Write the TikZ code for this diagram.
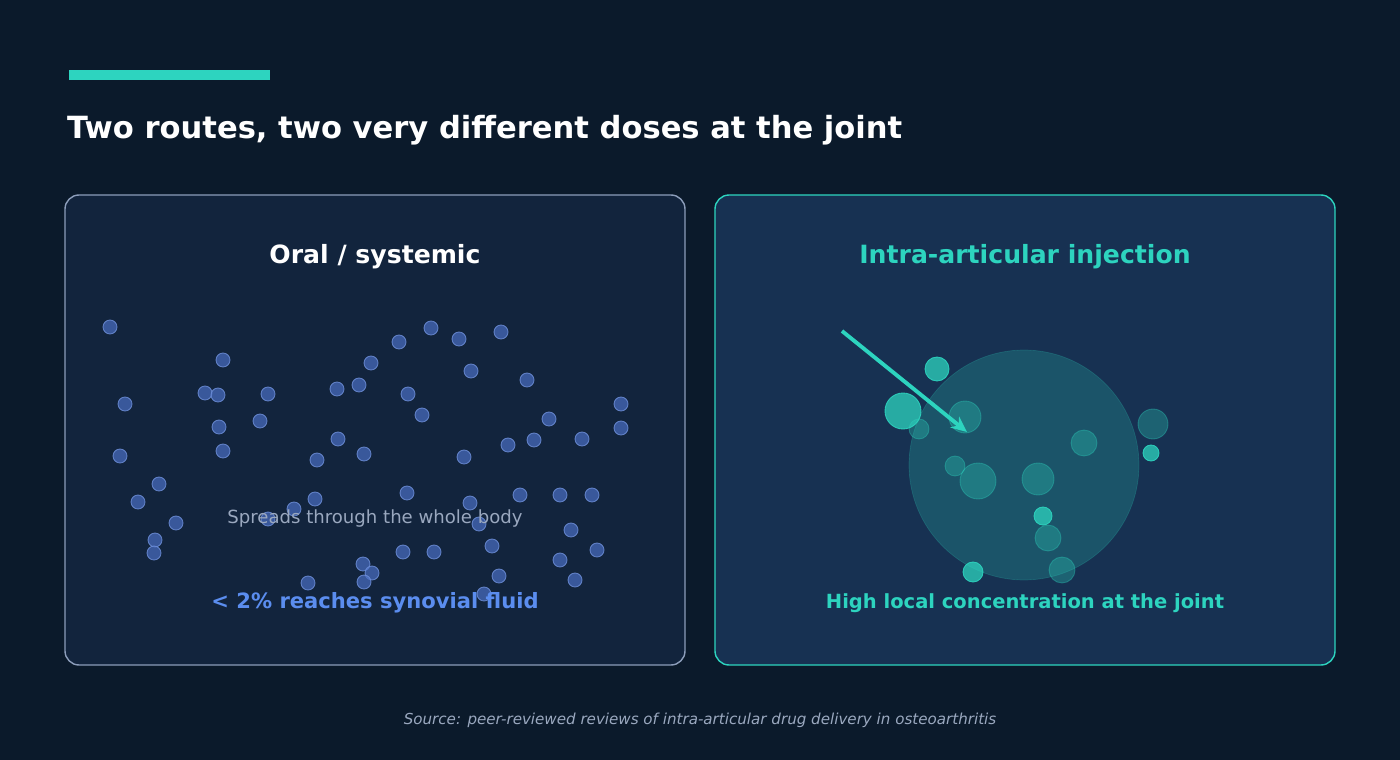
\documentclass[tikz,border=0pt]{standalone}
\usepackage{fontspec}
\setmainfont{DejaVu Sans}
\usetikzlibrary{arrows.meta}
\definecolor{bgdark}{HTML}{0B1A2B}
\definecolor{teal}{HTML}{2DD4BF}
\definecolor{leftfill}{HTML}{12243D}
\definecolor{rightfill}{HTML}{173152}
\definecolor{leftline}{HTML}{8C9DBA}
\definecolor{dotblue}{HTML}{4A6FC4}
\definecolor{dotedge}{HTML}{6F90DA}
\definecolor{softgray}{HTML}{9AA8BF}
\definecolor{linkblue}{HTML}{5B8DEF}
\tikzset{
  panel/.style={rounded corners=8pt,line width=0.8pt},
  dot/.style={circle,inner sep=0pt,minimum size=14*0.02cm,fill=dotblue,draw=dotedge,fill opacity=0.7,draw opacity=0.8,line width=0.5pt},
  bead/.style={circle,inner sep=0pt,fill=teal,fill opacity=0.75,draw=teal,draw opacity=0.9,line width=0.5pt},
  dimbead/.style={circle,inner sep=0pt,fill=teal,fill opacity=0.3,draw=teal,draw opacity=0.35,line width=0.5pt}
}
\begin{document}
\begin{tikzpicture}[x=0.02cm,y=-0.02cm]
  \fill[bgdark] (0,0) rectangle (1400,760);
  \fill[teal] (69,70) rectangle (270,80);
  \node[anchor=west,text=white,font=\bfseries\fontsize{17.4}{20}\selectfont] (title) at (61,130) {Two routes, two very different doses at the joint};

% the two panels
  \draw[panel,fill=leftfill,draw=leftline] (65,195) rectangle (685,665);
  \draw[panel,fill=rightfill,draw=teal] (715,195) rectangle (1335,665);
  \node[text=white,font=\bfseries\fontsize{14.3}{17}\selectfont] (oral) at (375,257) {Oral / systemic};
  \node[text=teal,font=\bfseries\fontsize{14.3}{17}\selectfont] (inj) at (1025,257) {Intra-articular injection};

% scattered dots
  \foreach \x/\y [count=\i] in {110/327,223/360,125/404,205/393,218/395,268/394,219/427,260/421,120/456,223/451,
      159/484,138/502,176/523,155/540,154/553,317/460,338/439,337/389,359/385,371/363,399/342,431/328,459/339,
      501/332,471/371,408/394,422/415,364/454,464/457,527/380,549/419,508/445,534/440,582/439,621/404,621/428,
      315/499,294/509,268/519,407/493,470/503,479/524,520/495,560/495,592/495,571/530,492/546,597/550,560/560,
      575/580,499/576,484/594,403/552,434/552,363/564,372/573,364/582,308/583}
    \node[dot] (d\i) at (\x,\y) {};
  \node[text=softgray,font=\fontsize{10.3}{12}\selectfont] (spread) at (375,519) {Spreads through the whole body};
  \node[text=linkblue,font=\bfseries\fontsize{12}{14}\selectfont] (low) at (375,603) {< 2\% reaches synovial fluid};

% joint and beads
  \node[circle,inner sep=0pt,minimum size=230*0.02cm,fill=teal,fill opacity=0.22,draw=teal,draw opacity=0.2] (joint) at (1024,465) {};
  \foreach \x/\y/\r [count=\i] in {937/369/24,903/411/36,1151/453/16,1043/516/18,973/572/20}
    \node[bead,minimum size=\r*0.02cm] (b\i) at (\x,\y) {};
  \foreach \x/\y/\r [count=\i] in {919/429/20,965/417/32,1084/443/26,1153/424/30,955/466/20,978/481/36,
      1038/479/32,1048/538/26,1062/570/26}
    \node[dimbead,minimum size=\r*0.02cm] (c\i) at (\x,\y) {};
  \coordinate (start) at (842,331);
  \coordinate (tip) at (967,432);
  \draw[teal,line width=2.2pt,-{Stealth[length=9pt,width=8pt]}] (start) -- (tip);
  \node[text=teal,font=\bfseries\fontsize{11.1}{13}\selectfont] (high) at (1025,603) {High local concentration at the joint};

  \node[text=softgray,font=\itshape\fontsize{8.6}{10}\selectfont] (source) at (700,720) {Source: peer-reviewed reviews of intra-articular drug delivery in osteoarthritis};
\end{tikzpicture}
\end{document}
